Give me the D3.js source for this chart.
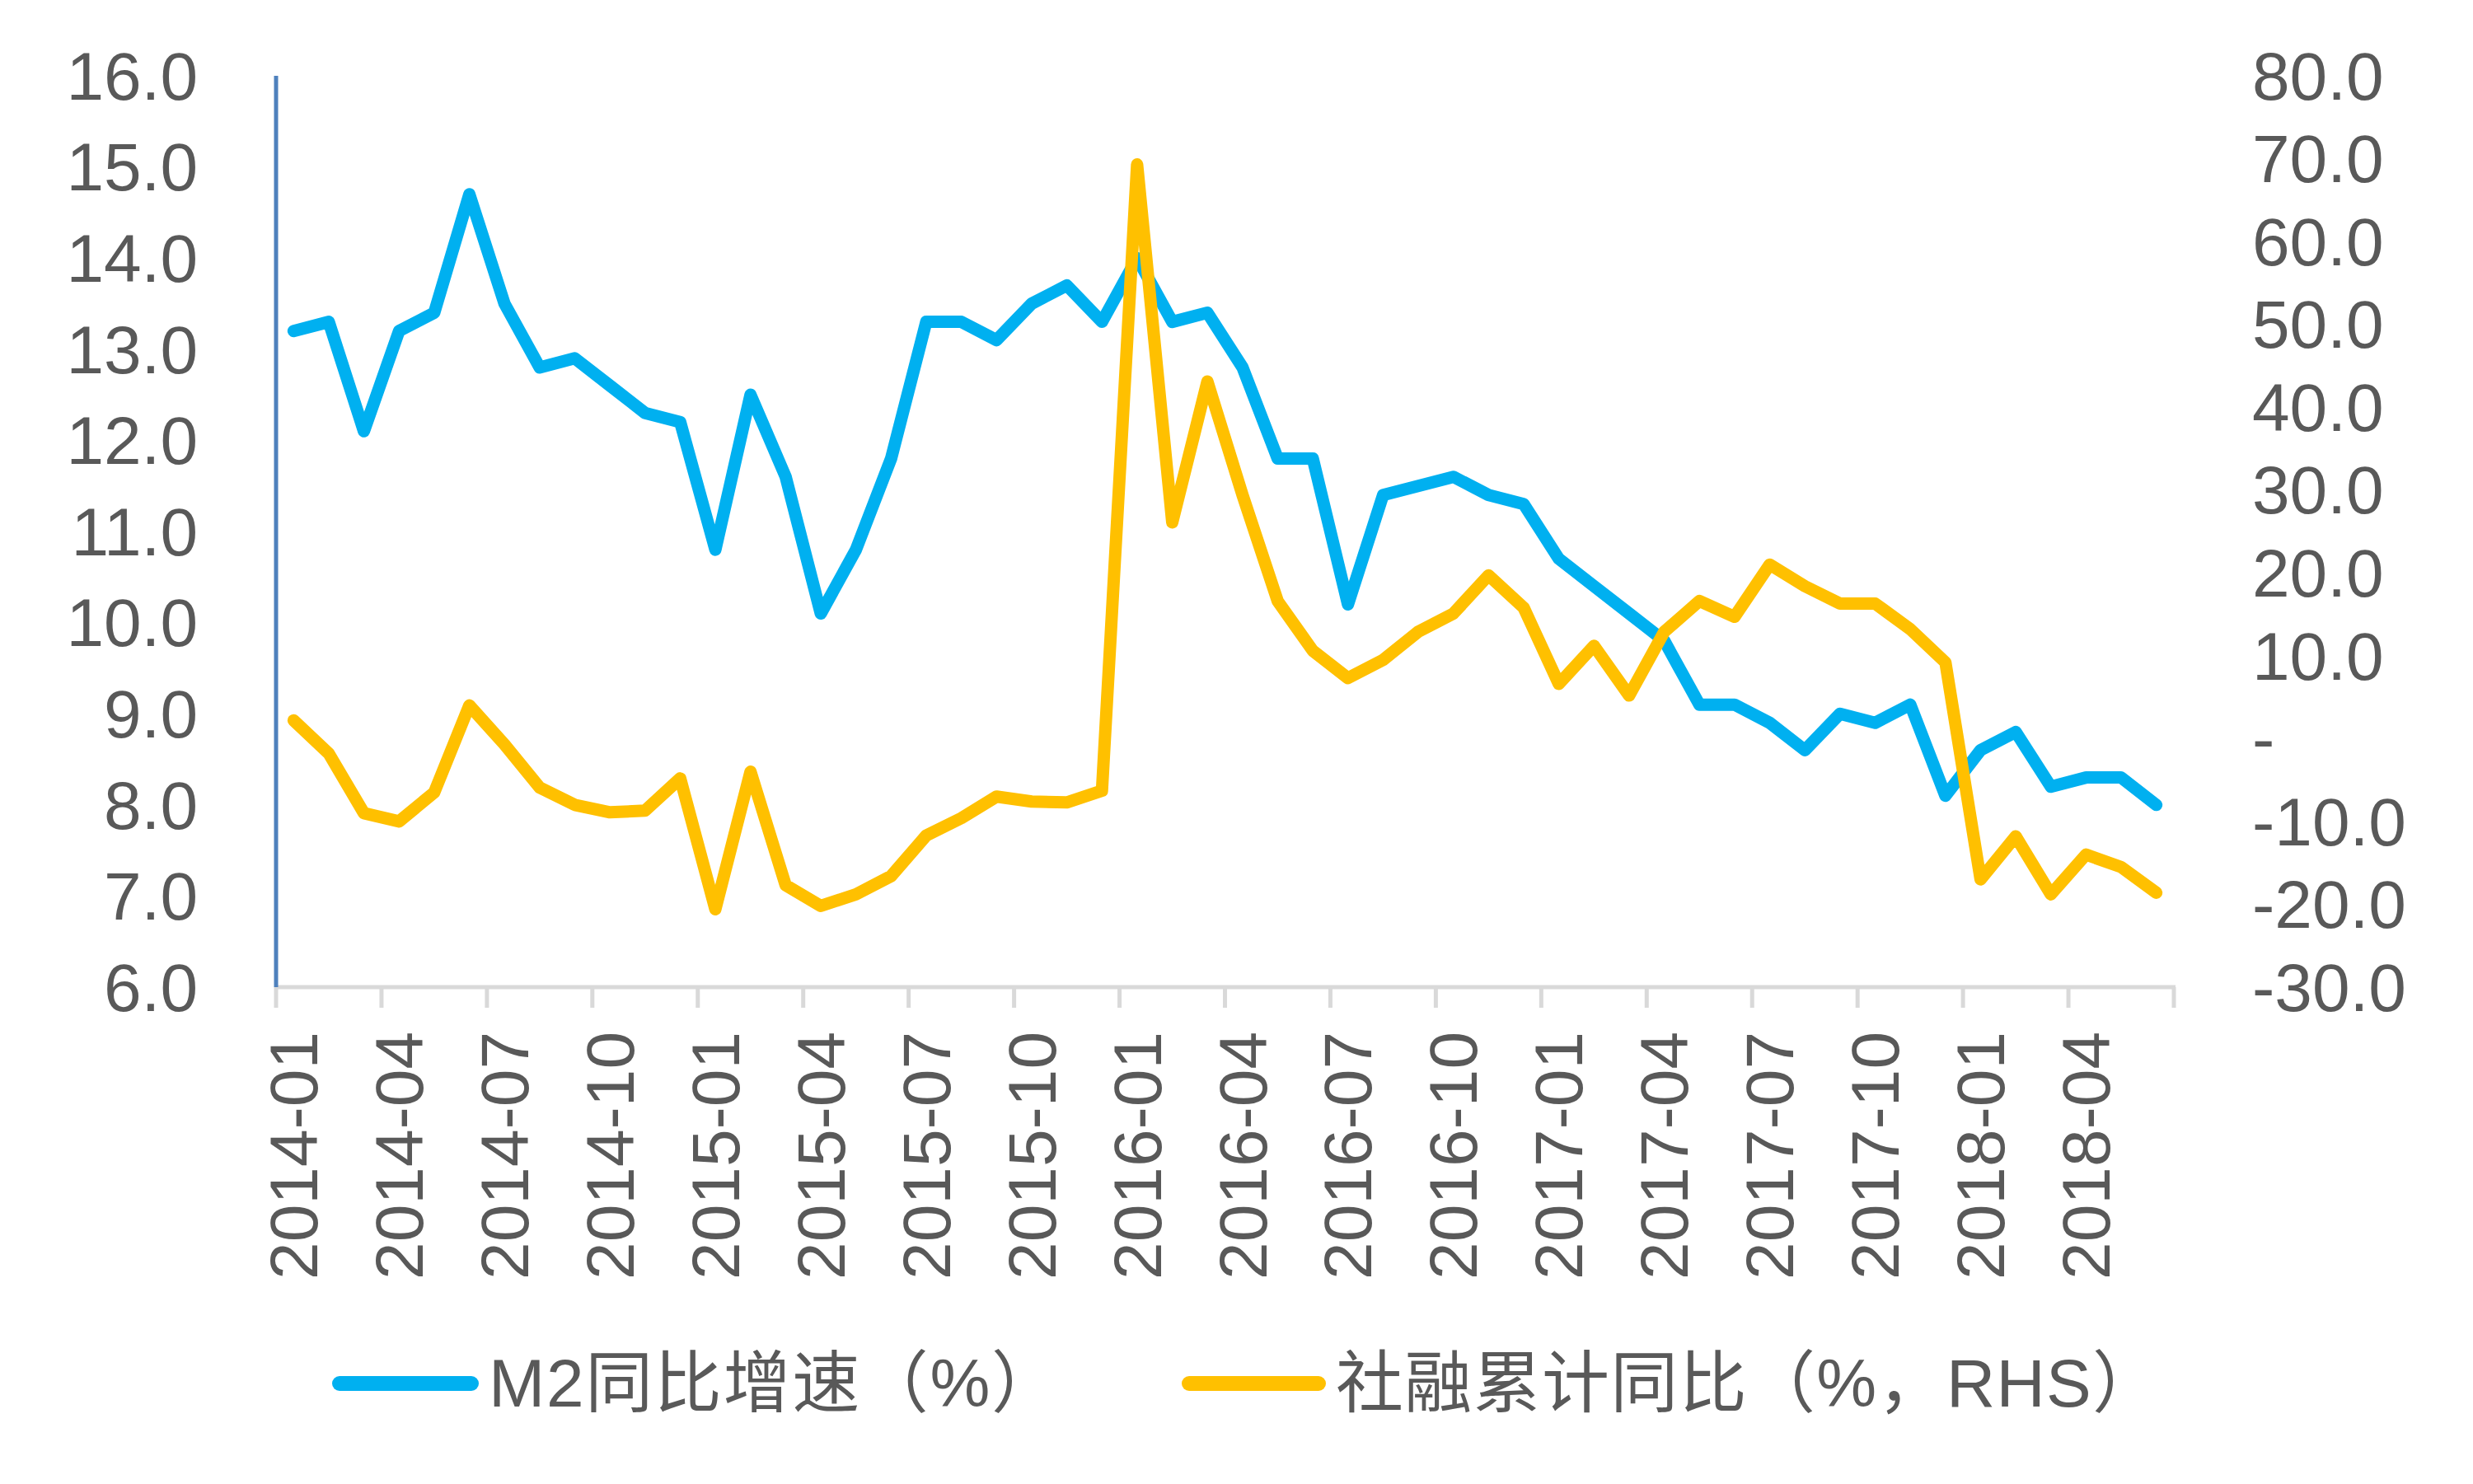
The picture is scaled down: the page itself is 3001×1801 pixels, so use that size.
<!DOCTYPE html>
<html><head><meta charset="utf-8">
<script src="https://cdn.jsdelivr.net/npm/d3@7"></script>
<style>body{margin:0;background:#fff}</style>
</head><body>
<svg id="c" width="3001" height="1801" xmlns="http://www.w3.org/2000/svg"></svg>
<script>
const months = [
"2014-01","2014-02","2014-03","2014-04","2014-05","2014-06","2014-07","2014-08","2014-09","2014-10","2014-11","2014-12",
"2015-01","2015-02","2015-03","2015-04","2015-05","2015-06","2015-07","2015-08","2015-09","2015-10","2015-11","2015-12",
"2016-01","2016-02","2016-03","2016-04","2016-05","2016-06","2016-07","2016-08","2016-09","2016-10","2016-11","2016-12",
"2017-01","2017-02","2017-03","2017-04","2017-05","2017-06","2017-07","2017-08","2017-09","2017-10","2017-11","2017-12",
"2018-01","2018-02","2018-03","2018-04","2018-05","2018-06"];
const m2 = [
13.2,13.3,12.1,13.2,13.4,14.7,13.5,12.8,12.9,12.6,12.3,12.2,
10.8,12.5,11.6,10.1,10.8,11.8,13.3,13.3,13.1,13.5,13.7,13.3,
14.0,13.3,13.4,12.8,11.8,11.8,10.2,11.4,11.5,11.6,11.4,11.3,
10.7,10.4,10.1,9.8,9.1,9.1,8.9,8.6,9.0,8.9,9.1,8.1,
8.6,8.8,8.2,8.3,8.3,8.0];
const tsf = [
2.2,-1.8,-9.0,-10.0,-6.5,4.0,-0.7,-5.9,-8.0,-8.9,-8.7,-4.8,
-20.6,-4.0,-17.7,-20.2,-18.8,-16.6,-11.7,-9.6,-7.0,-7.6,-7.7,-6.3,
69.3,26.1,43.1,29.4,16.6,10.6,7.3,9.5,12.9,15.1,19.7,15.8,
6.6,11.2,5.2,12.9,16.6,14.7,21.0,18.4,16.3,16.3,13.2,9.2,
-17.0,-11.8,-18.8,-14.0,-15.5,-18.6];
const leftTicks = [6,7,8,9,10,11,12,13,14,15,16];
const rightTicks = [-30,-20,-10,0,10,20,30,40,50,60,70,80];
const xTickLabels = ["2014-01","2014-04","2014-07","2014-10","2015-01","2015-04","2015-07","2015-10",
"2016-01","2016-04","2016-07","2016-10","2017-01","2017-04","2017-07","2017-10","2018-01","2018-04"];
const seriesNames = ["M2同比增速（%）","社融累计同比（%，RHS）"];
const colors = ["#00B0F0","#FFC000"];

const FONT = "'Liberation Sans', Arial, 'Noto Sans CJK SC', sans-serif";
const TXT = "#595959";
const svg = d3.select("#c");
svg.append("rect").attr("width",3001).attr("height",1801).attr("fill","#fff");

const x = d3.scaleBand().domain(months).range([335,2638]).padding(0);
const bw = x.bandwidth();
const yL = d3.scaleLinear().domain([6,16]).range([1198,92]);
const yR = d3.scaleLinear().domain([-30,80]).range([1198,92]);

// x axis line
const axisY = yL(6);
svg.append("line").attr("x1",x.range()[0]).attr("x2",x.range()[1]+2)
  .attr("y1",axisY).attr("y2",axisY).attr("stroke","#d9d9d9").attr("stroke-width",5);
// ticks at category boundaries every 3 months
const boundaries = xTickLabels.map(d=>x(d)).concat([x.range()[1]]);
svg.selectAll("line.tick").data(boundaries).enter().append("line")
  .attr("x1",d=>d).attr("x2",d=>d).attr("y1",axisY).attr("y2",axisY+25)
  .attr("stroke","#d9d9d9").attr("stroke-width",5);
// x labels
svg.selectAll("text.xl").data(xTickLabels).enter().append("text")
  .attr("transform",d=>`translate(${x(d)+bw/2},1252) rotate(-90)`)
  .attr("text-anchor","end").attr("dy","0.35em")
  .attr("font-family",FONT).attr("font-size",82).attr("fill",TXT).text(d=>d);

// left axis line
svg.append("line").attr("x1",335).attr("x2",335).attr("y1",yL(16)).attr("y2",axisY)
  .attr("stroke","#4F81BD").attr("stroke-width",5);
svg.selectAll("text.yl").data(leftTicks).enter().append("text")
  .attr("x",240).attr("y",d=>yL(d)).attr("dy","0.35em").attr("text-anchor","end")
  .attr("font-family",FONT).attr("font-size",82).attr("fill",TXT).text(d=>d.toFixed(1));
svg.selectAll("text.yr").data(rightTicks).enter().append("text")
  .attr("x",2733).attr("y",d=>yR(d)).attr("dy","0.35em").attr("text-anchor","start")
  .attr("font-family",FONT).attr("font-size",82).attr("fill",TXT)
  .text(d=>d===0?"-":d.toFixed(1));

// lines
const cx = (d,i)=>x(months[i])+bw/2;
const lineL = d3.line().x(cx).y(d=>yL(d));
const lineR = d3.line().x(cx).y(d=>yR(d));
svg.append("path").attr("d",lineL(m2)).attr("fill","none").attr("stroke",colors[0])
  .attr("stroke-width",15).attr("stroke-linejoin","round").attr("stroke-linecap","round");
svg.append("path").attr("d",lineR(tsf)).attr("fill","none").attr("stroke",colors[1])
  .attr("stroke-width",15).attr("stroke-linejoin","round").attr("stroke-linecap","round");

// legend
const legend = [{x1:412,x2:572,tx:593,len:692},{x1:1443,x2:1600,tx:1621,len:1000}];
legend.forEach((l,i)=>{
  svg.append("line").attr("x1",l.x1).attr("x2",l.x2).attr("y1",1679).attr("y2",1679)
    .attr("stroke",colors[i]).attr("stroke-width",18).attr("stroke-linecap","round");
  svg.append("text").attr("x",l.tx).attr("y",1707).attr("font-family",FONT)
    .attr("font-size",82).attr("fill",TXT)
    .attr("textLength",l.len).attr("lengthAdjust","spacing").text(seriesNames[i]);
});
</script>
</body></html>
